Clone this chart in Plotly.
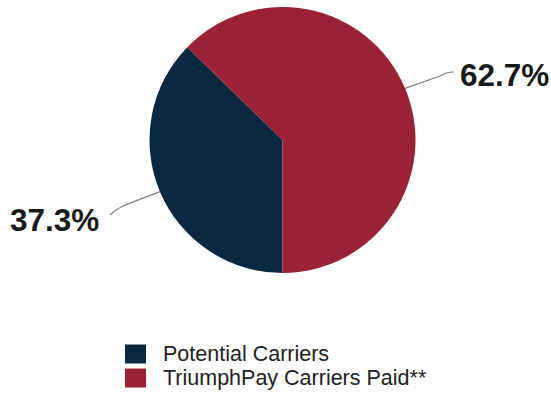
import math
import plotly.graph_objects as go

# Share of carriers
labels = ["Potential Carriers", "TriumphPay Carriers Paid**"]
values = [37.3, 62.7]
colors = ["#0C2740", "#9B2236"]

W, H = 551, 397
cx, cy, r = 282.5, 140.0, 133.0
start_deg = 180  # first slice starts at 6 o'clock, going clockwise


def px(x):
    return x / W


def py(y):
    return 1 - y / H


fig = go.Figure(
    go.Pie(
        labels=labels,
        values=values,
        marker=dict(colors=colors, line=dict(width=0)),
        sort=False,
        direction="clockwise",
        rotation=start_deg,
        textinfo="none",
        hoverinfo="label+percent",
        showlegend=False,
        domain=dict(x=[px(cx - r), px(cx + r)], y=[py(cy + r), py(cy - r)]),
    )
)

# Mid-angle of each slice on the rim, in pixel coordinates
total = sum(values)
mids = []
acc = start_deg
for v in values:
    span = 360 * v / total
    mid = math.radians(acc + span / 2)
    mids.append((cx + r * math.sin(mid), cy - r * math.cos(mid)))
    acc += span

label_font = dict(family="Liberation Sans, Arial, sans-serif", size=31.5, color="#1a1a1a")
leader = dict(color="#808080", width=1.2)

# Left label (Potential Carriers)
(x0, y0) = mids[0]
lx, ly = 110, 215
fig.add_shape(
    type="path",
    xref="paper", yref="paper",
    path=(f"M {px(x0)},{py(y0)} C {px(x0 - 30)},{py(y0 + 12)} "
          f"{px(lx + 8)},{py(ly - 9)} {px(lx)},{py(ly)}"),
    line=leader,
)
fig.add_annotation(
    x=px(101), y=py(220), xref="paper", yref="paper",
    xanchor="right", yanchor="middle",
    text=f"<b>{values[0]:.1f}%</b>", showarrow=False, font=label_font,
)

# Right label (TriumphPay Carriers Paid)
(x1, y1) = mids[1]
rx, ry = 454, 72
fig.add_shape(
    type="path",
    xref="paper", yref="paper",
    path=(f"M {px(x1)},{py(y1)} L {px(440)},{py(76)} "
          f"Q {px(446)},{py(72)} {px(rx)},{py(ry)}"),
    line=leader,
)
fig.add_annotation(
    x=px(458), y=py(75), xref="paper", yref="paper",
    xanchor="left", yanchor="middle",
    text=f"<b>{values[1]:.1f}%</b>", showarrow=False, font=label_font,
)

# Legend: colour squares with item names
leg_font = dict(family="Liberation Sans, Arial, sans-serif", size=21.5, color="#222222")
sq = 21
row_y = [354, 378]
for name, col, yc in zip(labels, colors, row_y):
    fig.add_shape(
        type="rect", xref="paper", yref="paper",
        x0=px(125), x1=px(125 + sq), y0=py(yc + sq / 2 - 1), y1=py(yc - sq / 2 + 1),
        fillcolor=col, line=dict(width=0),
    )
    fig.add_annotation(
        x=px(161), y=py(yc), xref="paper", yref="paper",
        xanchor="left", yanchor="middle",
        text=name, showarrow=False, font=leg_font,
    )

fig.update_layout(
    width=W, height=H,
    margin=dict(l=0, r=0, t=0, b=0),
    paper_bgcolor="white",
    plot_bgcolor="white",
)

fig.write_html("out.html")
